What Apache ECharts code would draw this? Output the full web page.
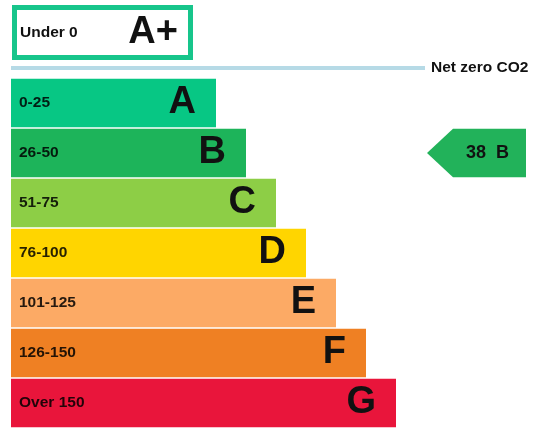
<!DOCTYPE html>
<html>
<head>
<meta charset="utf-8">
<script src="https://cdn.jsdelivr.net/npm/echarts@6/dist/echarts.min.js"></script>
<style>
html,body{margin:0;padding:0;background:#fff;}
#chart{width:539px;height:438px;}
</style>
</head>
<body>
<div id="chart"></div>
<script>
// ---- data ----
const bands = ['A', 'B', 'C', 'D', 'E', 'F', 'G'];
const ranges = ['0-25', '26-50', '51-75', '76-100', '101-125', '126-150', 'Over 150'];
const barLengths = [41, 47, 53, 59, 65, 71, 77];
const bandColors = ['#07c784', '#1db45a', '#8dce46', '#ffd500', '#fcaa65', '#ef8023', '#e9153b'];
const topBand = 'A+';
const topRange = 'Under 0';
const netZeroLabel = 'Net zero CO2';
const currentScore = 38;
const currentBand = 'B';

const FONT = '"Liberation Sans", Arial, sans-serif';
const chart = echarts.init(document.getElementById('chart'), null, {renderer: 'canvas'});

const bandIdx = bands.indexOf(currentBand);

const option = {
  animation: false,
  backgroundColor: '#ffffff',
  grid: [
    {left: 11, right: 0, top: 78, height: 350},
    {left: 12, width: 181, top: 5, height: 55}
  ],
  xAxis: [
    {gridIndex: 0, type: 'value', min: 0, max: 105.6, show: false},
    {gridIndex: 1, type: 'value', min: 0, max: 1, show: false}
  ],
  yAxis: [
    {gridIndex: 0, type: 'category', data: bands, inverse: true, show: false},
    {gridIndex: 1, type: 'category', data: [topBand], show: false}
  ],
  graphic: [
    {type: 'line', shape: {x1: 11, y1: 68, x2: 425, y2: 68}, style: {stroke: '#b6dae6', lineWidth: 4}},
    {type: 'text', x: 431, y: 68, style: {text: netZeroLabel, fill: '#111', font: 'bold 15.5px ' + FONT, textVerticalAlign: 'middle'}}
  ],
  series: [
    {
      type: 'bar', xAxisIndex: 0, yAxisIndex: 0,
      barCategoryGap: '3%',
      data: barLengths.map((v, i) => ({value: v, itemStyle: {color: bandColors[i]}})),
      label: {
        show: true, position: 'insideLeft', distance: 8,
        formatter: p => ranges[p.dataIndex],
        color: 'rgba(0,0,0,0.85)', fontFamily: FONT, fontWeight: 'bold', fontSize: 15.5
      },
      silent: true
    },
    {
      type: 'bar', xAxisIndex: 0, yAxisIndex: 0,
      barCategoryGap: '3%', barGap: '-100%',
      data: barLengths,
      itemStyle: {color: 'rgba(0,0,0,0)'},
      label: {
        show: true, position: 'insideRight', distance: 20,
        formatter: p => bands[p.dataIndex],
        color: '#111', fontFamily: FONT, fontWeight: 'bold', fontSize: 38
      },
      silent: true
    },
    {
      type: 'custom', xAxisIndex: 0, yAxisIndex: 0,
      data: [[currentScore, bandIdx]],
      renderItem: function (params, api) {
        const c = api.coord([0, api.value(1)]);
        const h = api.size([0, 1])[1] * 0.97;
        const cy = c[1];
        const y0 = cy - h / 2, y1 = cy + h / 2;
        const tip = 427, shoulder = 453, right = 526;
        return {
          type: 'group',
          children: [
            {type: 'polygon', shape: {points: [[tip, cy], [shoulder, y0], [right, y0], [right, y1], [shoulder, y1]]},
             style: {fill: '#22b25a'}},
            {type: 'text', x: (shoulder + right) / 2 - 2, y: cy,
             style: {text: api.value(0) + '  ' + currentBand, fill: '#111', font: 'bold 18px ' + FONT,
                     textAlign: 'center', textVerticalAlign: 'middle'}}
          ]
        };
      },
      silent: true
    },
    {
      type: 'bar', xAxisIndex: 1, yAxisIndex: 1,
      barWidth: 55,
      data: [1],
      itemStyle: {color: '#ffffff', borderColor: '#17c58b', borderWidth: 5},
      label: {
        show: true, position: 'insideLeft', distance: 8,
        formatter: topRange,
        color: '#111', fontFamily: FONT, fontWeight: 'bold', fontSize: 15.5
      },
      silent: true
    },
    {
      type: 'bar', xAxisIndex: 1, yAxisIndex: 1,
      barWidth: 55, barGap: '-100%',
      data: [1],
      itemStyle: {color: 'rgba(0,0,0,0)'},
      label: {
        show: true, position: 'insideRight', distance: 15,
        formatter: topBand,
        color: '#111', fontFamily: FONT, fontWeight: 'bold', fontSize: 38
      },
      silent: true
    }
  ]
};
chart.setOption(option);
</script>
</body>
</html>
